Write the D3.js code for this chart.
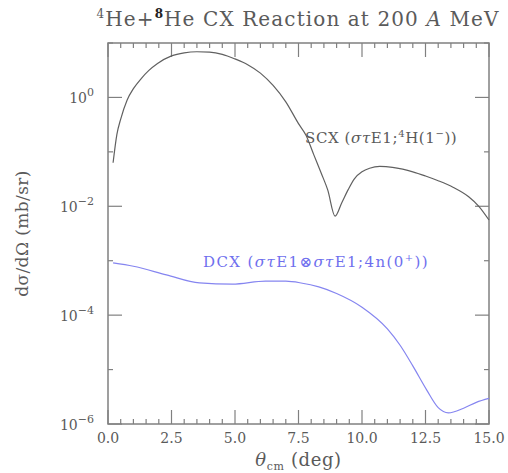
<!DOCTYPE html>
<html>
<head>
<meta charset="utf-8">
<script src="https://cdn.jsdelivr.net/npm/d3@7"></script>
<style>
  body { margin: 0; background: #fff; }
  text { font-family: "DejaVu Serif", serif; fill: #5a5a5a; }
</style>
</head>
<body>
<div id="chart"></div>
<script>
// angle grid (deg) and cross sections (mb/sr)
var scxTheta = [0.2, 0.35, 0.5, 0.75, 1.0, 1.3, 1.6, 1.95, 2.5, 3.0, 3.5, 4.0, 4.5, 5.0, 5.5, 6.0,
  6.5, 7.0, 7.5, 7.8, 8.1, 8.4, 8.65, 8.94, 9.2, 9.45, 9.7, 10.0, 10.3, 10.7, 11.2, 11.6, 12.0,
  12.5, 13.0, 13.6, 14.2, 14.6, 15.0];
var scxValues = [0.063, 0.21, 0.40, 0.89, 1.45, 2.2, 3.1, 4.2, 5.8, 6.6, 6.9, 6.8, 6.2, 5.1, 4.0, 2.8,
  1.66, 0.83, 0.33, 0.20, 0.089, 0.040, 0.020, 0.0066, 0.0115, 0.020, 0.032, 0.043, 0.050, 0.054, 0.052, 0.048, 0.043,
  0.036, 0.0295, 0.0222, 0.0150, 0.0100, 0.0056];

var dcxTheta = [0.2, 1.0, 2.3, 3.6, 4.9, 6.2, 7.0, 7.6, 8.3, 9.0, 10.0, 11.0, 11.5, 12.0, 12.55,
  13.0, 13.4, 14.0, 14.5, 15.0];
var dcxValues = [9.1e-4, 7.9e-4, 5.5e-4, 3.9e-4, 3.7e-4, 4.2e-4, 4.2e-4, 3.9e-4, 3.3e-4, 2.5e-4, 1.4e-4,
  5.6e-5, 2.8e-5, 1.17e-5, 4.2e-6, 2.0e-6, 1.6e-6, 1.95e-6, 2.5e-6, 2.95e-6];

var xMajor = [0, 2.5, 5, 7.5, 10, 12.5, 15];
var xMinor = d3.range(0, 15.01, 0.5);
var yMajorExp = [0, -2, -4, -6];
var yMinorExp = [1, -1, -3, -5];

// set the dimensions and margins of the graph
var margin = {top: 43, right: 19, bottom: 49, left: 108},
    width = 508 - margin.left - margin.right,
    height = 473 - margin.top - margin.bottom;

var x = d3.scaleLinear().domain([0, 15]).range([0, width]);
var y = d3.scaleLog().domain([1e-6, 10]).range([height, 0]);

var line = d3.line()
    .x(function(d) { return x(d[0]); })
    .y(function(d) { return y(d[1]); })
    .curve(d3.curveMonotoneX);

var svgRoot = d3.select("#chart").append("svg")
    .attr("width", 508)
    .attr("height", 473);
var svg = svgRoot.append("g")
    .attr("transform", "translate(" + margin.left + "," + margin.top + ")");

var axisColor = "#808080";

// ticks on all four sides, pointing inward
function xTicks(vals, len) {
  svg.append("g").selectAll("line").data(vals).enter().append("line")
    .attr("x1", function(d) { return x(d); }).attr("x2", function(d) { return x(d); })
    .attr("y1", height).attr("y2", height - len)
    .attr("stroke", axisColor).attr("stroke-width", 1.2);
  svg.append("g").selectAll("line").data(vals).enter().append("line")
    .attr("x1", function(d) { return x(d); }).attr("x2", function(d) { return x(d); })
    .attr("y1", 0).attr("y2", len)
    .attr("stroke", axisColor).attr("stroke-width", 1.2);
}
function yTicks(exps, len) {
  var vals = exps.map(function(e) { return Math.pow(10, e); });
  svg.append("g").selectAll("line").data(vals).enter().append("line")
    .attr("x1", 0).attr("x2", len)
    .attr("y1", function(d) { return y(d); }).attr("y2", function(d) { return y(d); })
    .attr("stroke", axisColor).attr("stroke-width", 1.2);
  svg.append("g").selectAll("line").data(vals).enter().append("line")
    .attr("x1", width).attr("x2", width - len)
    .attr("y1", function(d) { return y(d); }).attr("y2", function(d) { return y(d); })
    .attr("stroke", axisColor).attr("stroke-width", 1.2);
}
xTicks(xMinor.filter(function(v) { return v % 2.5 !== 0; }), 5);
xTicks(xMajor, 14);
yTicks(yMinorExp, 5);
yTicks(yMajorExp, 14);

// frame
svg.append("rect")
    .attr("width", width).attr("height", height)
    .attr("fill", "none").attr("stroke", axisColor).attr("stroke-width", 1.5);

// x tick labels
svg.append("g").selectAll("text").data(xMajor).enter().append("text")
    .attr("x", function(d) { return x(d); })
    .attr("y", height + 19)
    .attr("text-anchor", "middle")
    .style("font-size", "14px")
    .text(function(d) { return d3.format(".1f")(d); });

// y tick labels 10^n
var yl = svg.append("g").selectAll("text").data(yMajorExp).enter().append("text")
    .attr("x", -14)
    .attr("y", function(d) { return y(Math.pow(10, d)) + 6; })
    .attr("text-anchor", "end")
    .style("font-size", "14px");
yl.append("tspan").text("10");
yl.append("tspan").attr("dy", -7).style("font-size", "11px")
    .text(function(d) { return d === 0 ? "0" : "\u2212" + (-d); });

// curves
svg.append("path")
    .datum(d3.zip(scxTheta, scxValues))
    .attr("fill", "none").attr("stroke", "#606060").attr("stroke-width", 1.2)
    .attr("d", line);
svg.append("path")
    .datum(d3.zip(dcxTheta, dcxValues))
    .attr("fill", "none").attr("stroke", "#8585f0").attr("stroke-width", 1.2)
    .attr("d", line);

// curve labels
var scxLab = svg.append("text").attr("x", 197).attr("y", 100)
    .style("font-size", "15px").style("letter-spacing", "0.6px");
scxLab.append("tspan").text("SCX (");
scxLab.append("tspan").style("font-style", "italic").text("\u03c3\u03c4");
scxLab.append("tspan").text("E1;");
scxLab.append("tspan").attr("dy", -6).style("font-size", "10px").text("4");
scxLab.append("tspan").attr("dy", 6).text("H(1");
scxLab.append("tspan").attr("dy", -6).style("font-size", "10px").text("\u2212");
scxLab.append("tspan").attr("dy", 6).text("))");

var dcxLab = svg.append("text").attr("x", 95).attr("y", 224)
    .style("font-size", "15px").style("letter-spacing", "1.4px").style("fill", "#6f6fee");
dcxLab.append("tspan").text("DCX (");
dcxLab.append("tspan").style("font-style", "italic").text("\u03c3\u03c4");
dcxLab.append("tspan").text("E1\u2297");
dcxLab.append("tspan").style("font-style", "italic").text("\u03c3\u03c4");
dcxLab.append("tspan").text("E1;4n(0");
dcxLab.append("tspan").attr("dy", -6).style("font-size", "10px").text("+");
dcxLab.append("tspan").attr("dy", 6).text("))");

// title
var title = svgRoot.append("text")
    .attr("x", 298).attr("y", 26)
    .attr("text-anchor", "middle")
    .style("font-size", "20px").style("letter-spacing", "1.1px");
title.append("tspan").attr("dy", -8).style("font-size", "12px").text("4");
title.append("tspan").attr("dy", 8).text("He+");
title.append("tspan").attr("dy", -8).style("font-size", "12px").style("font-weight", "bold").style("fill", "#222").text("8");
title.append("tspan").attr("dy", 8).text("He CX Reaction at 200 ");
title.append("tspan").style("font-style", "italic").text("A");
title.append("tspan").text(" MeV");

// x label
var xl = svgRoot.append("text")
    .attr("x", margin.left + width / 2).attr("y", 466)
    .attr("text-anchor", "middle")
    .style("font-size", "18px").style("letter-spacing", "0.6px");
xl.append("tspan").style("font-style", "italic").text("\u03b8");
xl.append("tspan").attr("dy", 4).style("font-size", "11px").text("cm");
xl.append("tspan").attr("dy", -4).text(" (deg)");

// y label
svgRoot.append("text")
    .attr("transform", "translate(28," + (margin.top + height / 2) + ") rotate(-90)")
    .attr("text-anchor", "middle")
    .style("font-size", "17px").style("letter-spacing", "0.4px")
    .text("d\u03c3/d\u03a9 (mb/sr)");
</script>
</body>
</html>
